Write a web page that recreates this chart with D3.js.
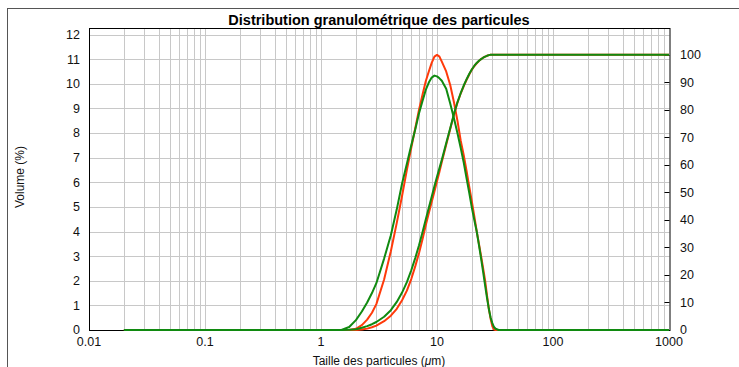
<!DOCTYPE html>
<html><head><meta charset="utf-8">
<script src="https://cdn.jsdelivr.net/npm/d3@7/dist/d3.min.js"></script>
<style>
body{margin:0;background:#fff;}
svg{display:block;font-family:"Liberation Sans",Arial,Helvetica,sans-serif;}
</style></head>
<body><svg id="c" width="739" height="367"></svg>
<script>
// ---- data ----
const sizes = [0.02, 1, 1.5, 1.75, 2, 2.25, 2.5, 2.75, 3, 3.5, 4, 4.5, 5, 5.5, 6, 6.5, 7, 7.5, 8, 8.5, 9, 9.5, 10, 10.5, 11, 12, 13, 14, 15, 16, 17, 18, 19, 20, 21, 22, 23, 24, 25, 26, 27, 28, 29, 30, 31, 32, 34, 36, 1000];
const volumeRed = [0, 0, 0, 0, 0.05, 0.2, 0.42, 0.7, 1.05, 2.05, 3.2, 4.35, 5.45, 6.5, 7.4, 8.2, 8.95, 9.55, 10.1, 10.5, 10.85, 11.1, 11.17, 11.1, 10.9, 10.5, 9.95, 9.25, 8.5, 7.7, 7.1, 6.45, 5.8, 5.2, 4.6, 4.0, 3.5, 3.0, 2.5, 2.0, 1.4, 0.85, 0.45, 0.15, 0.02, 0, 0, 0, 0];
const volumeGreen = [0, 0, 0, 0.12, 0.4, 0.75, 1.12, 1.5, 1.9, 2.9, 3.85, 4.9, 5.95, 6.75, 7.5, 8.15, 8.8, 9.3, 9.75, 10.05, 10.25, 10.33, 10.3, 10.22, 10.12, 9.8, 9.2, 8.6, 8.0, 7.4, 6.8, 6.15, 5.55, 4.95, 4.45, 4.0, 3.45, 2.9, 2.35, 1.8, 1.3, 0.85, 0.5, 0.28, 0.12, 0.05, 0, 0, 0];
const cumulRed = [0, 0, 0, 0, 0, 0.15, 0.5, 1.0, 1.6, 3.2, 5.2, 7.7, 10.8, 14.3, 18.5, 23.2, 28, 33, 38, 42.5, 46.5, 50.3, 54, 57.5, 61, 67.3, 73, 78.3, 82.6, 85.9, 88.6, 90.9, 92.9, 94.6, 95.9, 96.9, 97.7, 98.4, 98.9, 99.3, 99.6, 99.85, 100, 100, 100, 100, 100, 100, 100];
const cumulGreen = [0, 0, 0, 0.05, 0.3, 0.8, 1.4, 2.1, 2.9, 4.8, 7.2, 10.2, 13.6, 17.4, 21.7, 26.2, 30.8, 35.5, 40.1, 44.4, 48.4, 52.2, 55.7, 58.8, 61.8, 67.8, 73.3, 78.5, 82.7, 86, 88.8, 91.1, 93.1, 94.7, 96, 97, 97.8, 98.4, 98.9, 99.3, 99.6, 99.85, 100, 100, 100, 100, 100, 100, 100];
const xTickLabels = ["0.01", "0.1", "1", "10", "100", "1000"];
const xTickValues = [0.01, 0.1, 1, 10, 100, 1000];
const yLeftTicks = [0,1,2,3,4,5,6,7,8,9,10,11,12];
const yRightTicks = [0,10,20,30,40,50,60,70,80,90,100];
const title = "Distribution granulométrique des particules";

// ---- layout ----
const svg = d3.select("#c");
const L = 89, R = 669.5, T = 28, B = 330;
const x = d3.scaleLog().domain([0.01, 1000]).range([L, 669]);
const yL = d3.scaleLinear().domain([0, 12]).range([B, 34.5]);
const yR = d3.scaleLinear().domain([0, 100]).range([B, 54.7]);

svg.append("rect").attr("width",739).attr("height",367).attr("fill","#fff");
// outer frame
svg.append("rect").attr("x",7.5).attr("y",8.5).attr("width",760).attr("height",400)
  .attr("fill","none").attr("stroke","#555").attr("stroke-width",1);

// grid
const g = svg.append("g");
x.ticks().filter(v => v > 0.01 && v < 1000).forEach(v => {
  g.append("line").attr("x1", Math.round(x(v))+0.5).attr("x2", Math.round(x(v))+0.5)
    .attr("y1", T).attr("y2", B).attr("stroke","#c8c8c8").attr("stroke-width",1);
});
yLeftTicks.filter(v => v > 0).forEach(v => {
  g.append("line").attr("x1", L).attr("x2", R).attr("y1", Math.round(yL(v))+0.5).attr("y2", Math.round(yL(v))+0.5)
    .attr("stroke","#c8c8c8").attr("stroke-width",1);
});

// frame of plot
svg.append("rect").attr("x", L+0.5).attr("y", T+0.5).attr("width", R-L).attr("height", B-T)
  .attr("fill","none").attr("stroke","#000").attr("stroke-width",1);

// right axis inward ticks
yRightTicks.forEach(v => {
  svg.append("line").attr("x1", R-5).attr("x2", R).attr("y1", Math.round(yR(v))+0.5).attr("y2", Math.round(yR(v))+0.5)
    .attr("stroke","#000").attr("stroke-width",1);
});

// lines
const rows = sizes.map((s,i) => ({s, vr: volumeRed[i], vg: volumeGreen[i], cr: cumulRed[i], cg: cumulGreen[i]}));
const red = "#ff3a0a", green = "#108a10";
const lineL = key => d3.line().x(d => x(d.s)).y(d => yL(d[key]));
const lineR = key => d3.line().x(d => x(d.s)).y(d => yR(d[key]));
const plot = svg.append("g");
plot.append("path").datum(rows).attr("d", lineL("vr")).attr("fill","none").attr("stroke",red).attr("stroke-width",2).attr("stroke-linejoin","round");
plot.append("path").datum(rows).attr("d", lineR("cr")).attr("fill","none").attr("stroke",red).attr("stroke-width",2).attr("stroke-linejoin","round");
plot.append("path").datum(rows).attr("d", lineL("vg")).attr("fill","none").attr("stroke",green).attr("stroke-width",2).attr("stroke-linejoin","round");
plot.append("path").datum(rows).attr("d", lineR("cg")).attr("fill","none").attr("stroke",green).attr("stroke-width",2).attr("stroke-linejoin","round");

// tick labels
yLeftTicks.forEach(v => {
  svg.append("text").attr("x", 80).attr("y", yL(v)).attr("dy","0.35em").attr("text-anchor","end")
    .attr("font-size",12.5).attr("fill","#111").text(v);
});
yRightTicks.forEach(v => {
  svg.append("text").attr("x", 680).attr("y", yR(v)).attr("dy","0.35em").attr("text-anchor","start")
    .attr("font-size",12.5).attr("fill","#111").text(v);
});
xTickValues.forEach((v,i) => {
  svg.append("text").attr("x", x(v)).attr("y", 345.5).attr("text-anchor","middle")
    .attr("font-size",12.5).attr("fill","#111").text(xTickLabels[i]);
});

// titles
svg.append("text").attr("x", 379).attr("y", 25).attr("text-anchor","middle")
  .attr("font-size",14.5).attr("font-weight","bold").attr("fill","#000").text(title);
svg.append("text").attr("transform","translate(24,177) rotate(-90)").attr("text-anchor","middle")
  .attr("font-size",12).attr("fill","#111").text("Volume (%)");
const xl = svg.append("text").attr("x", 379).attr("y", 365).attr("text-anchor","middle")
  .attr("font-size",12).attr("fill","#111");
xl.append("tspan").text("Taille des particules (");
xl.append("tspan").attr("font-style","italic").text("μ");
xl.append("tspan").text("m)");
</script></body></html>
